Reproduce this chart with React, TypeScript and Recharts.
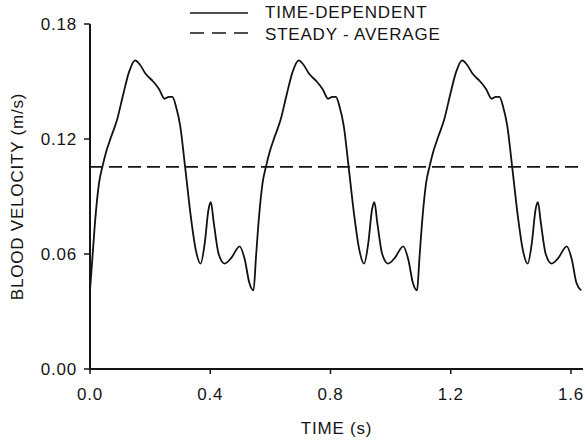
import { LineChart, Line, XAxis, YAxis, ReferenceLine, Legend } from "recharts";

// time (s) and velocity (m/s), three cardiac cycles
const timeS = [
  0.000, 0.008, 0.018, 0.030, 0.042, 0.055, 0.070, 0.090, 0.110, 0.130, 0.150, 0.165, 0.185, 0.210, 0.230, 0.248, 0.262,
  0.274, 0.286, 0.300, 0.316, 0.335, 0.352, 0.368, 0.382, 0.394, 0.402, 0.412, 0.428, 0.448, 0.470, 0.498, 0.515, 0.530,
  0.544, 0.552, 0.562, 0.574, 0.586, 0.599, 0.614, 0.634, 0.654, 0.674, 0.694, 0.709, 0.729, 0.754, 0.774, 0.792, 0.806,
  0.818, 0.830, 0.844, 0.860, 0.879, 0.896, 0.912, 0.926, 0.938, 0.946, 0.956, 0.972, 0.992, 1.014, 1.042, 1.059, 1.074,
  1.088, 1.096, 1.106, 1.118, 1.130, 1.143, 1.158, 1.178, 1.198, 1.218, 1.238, 1.253, 1.273, 1.298, 1.318, 1.336, 1.350,
  1.362, 1.374, 1.388, 1.404, 1.423, 1.440, 1.456, 1.470, 1.482, 1.490, 1.500, 1.516, 1.536, 1.558, 1.586, 1.603, 1.618,
  1.634,
];

const velocity = [
  0.041, 0.058, 0.079, 0.097, 0.106, 0.114, 0.121, 0.130, 0.143, 0.155, 0.161, 0.159, 0.154, 0.150, 0.146, 0.141, 0.142,
  0.142, 0.137, 0.127, 0.106, 0.080, 0.062, 0.055, 0.066, 0.083, 0.087, 0.076, 0.060, 0.055, 0.058, 0.064, 0.057, 0.045,
  0.041, 0.058, 0.079, 0.097, 0.106, 0.114, 0.121, 0.130, 0.143, 0.155, 0.161, 0.159, 0.154, 0.150, 0.146, 0.141, 0.142,
  0.142, 0.137, 0.127, 0.106, 0.080, 0.062, 0.055, 0.066, 0.083, 0.087, 0.076, 0.060, 0.055, 0.058, 0.064, 0.057, 0.045,
  0.041, 0.058, 0.079, 0.097, 0.106, 0.114, 0.121, 0.130, 0.143, 0.155, 0.161, 0.159, 0.154, 0.150, 0.146, 0.141, 0.142,
  0.142, 0.137, 0.127, 0.106, 0.080, 0.062, 0.055, 0.066, 0.083, 0.087, 0.076, 0.060, 0.055, 0.058, 0.064, 0.057, 0.045,
  0.041,
];

const steadyAverage = 0.1055;

const xTicks = [0, 0.4, 0.8, 1.2, 1.6];
const yTicks = [0, 0.06, 0.12, 0.18];

const seriesNames = ["TIME-DEPENDENT", "STEADY - AVERAGE"];

const data = timeS.map((t, i) => ({ t, v: velocity[i] }));

const FONT = "'Liberation Sans', Arial, Helvetica, sans-serif";
const INK = "#151515";
const tickStyle = { fontSize: 17, fill: INK, fontFamily: FONT, letterSpacing: 0.8 };

function YLabel({ viewBox }: any) {
  const x = viewBox.x + 17;
  const y = viewBox.y + viewBox.height / 2;
  return (
    <text x={x} y={y} transform={`rotate(-90 ${x} ${y})`} textAnchor="middle" dominantBaseline="central"
      fontSize={17} fill={INK} fontFamily={FONT} letterSpacing={0.8}>
      BLOOD VELOCITY (m/s)
    </text>
  );
}

function XLabel({ viewBox }: any) {
  return (
    <text x={viewBox.x + viewBox.width / 2} y={434} textAnchor="middle"
      fontSize={17} fill={INK} fontFamily={FONT} letterSpacing={0.8}>
      TIME (s)
    </text>
  );
}

function LegendBox() {
  return (
    <svg width={280} height={46} style={{ display: "block" }}>
      <line x1={0} x2={58} y1={13} y2={13} stroke={INK} strokeWidth={1.7} />
      <line x1={0} x2={58} y1={33} y2={33} stroke={INK} strokeWidth={1.7} strokeDasharray="14 8" />
      <text x={75} y={18} fontSize={17} fill={INK} fontFamily={FONT} letterSpacing={0.8}>{seriesNames[0]}</text>
      <text x={75} y={40} fontSize={17} fill={INK} fontFamily={FONT} letterSpacing={0.8}>{seriesNames[1]}</text>
    </svg>
  );
}

export default function App() {
  return (
    <div style={{ position: "absolute", left: 0, top: 0, background: "#fff" }}>
      <LineChart width={585} height={442} data={data} margin={{ top: 24, right: 2, bottom: 0, left: 0 }}>
        <XAxis dataKey="t" type="number" domain={[0, 1.64]} ticks={xTicks} tickFormatter={(v: number) => v.toFixed(1)}
          height={73} tickSize={5} tickMargin={14} stroke={INK} strokeWidth={2} tick={tickStyle}
          tickLine={{ stroke: INK, strokeWidth: 1.5 }} label={<XLabel />} />
        <YAxis type="number" domain={[0, 0.18]} ticks={yTicks} tickFormatter={(v: number) => v.toFixed(2)}
          width={90} tickSize={6} tickMargin={7} stroke={INK} strokeWidth={2} tick={tickStyle}
          tickLine={{ stroke: INK, strokeWidth: 1.5 }} label={<YLabel />} />
        <ReferenceLine y={steadyAverage} stroke={INK} strokeWidth={1.7} strokeDasharray="13 6" />
        <Line type="monotone" dataKey="v" name={seriesNames[0]} stroke="#111" strokeWidth={1.8} dot={false}
          isAnimationActive={false} />
        <Legend layout="vertical" align="center" verticalAlign="middle" wrapperStyle={{ top: 0, left: 190, width: 280 }}
          content={() => <LegendBox />} />
      </LineChart>
    </div>
  );
}
